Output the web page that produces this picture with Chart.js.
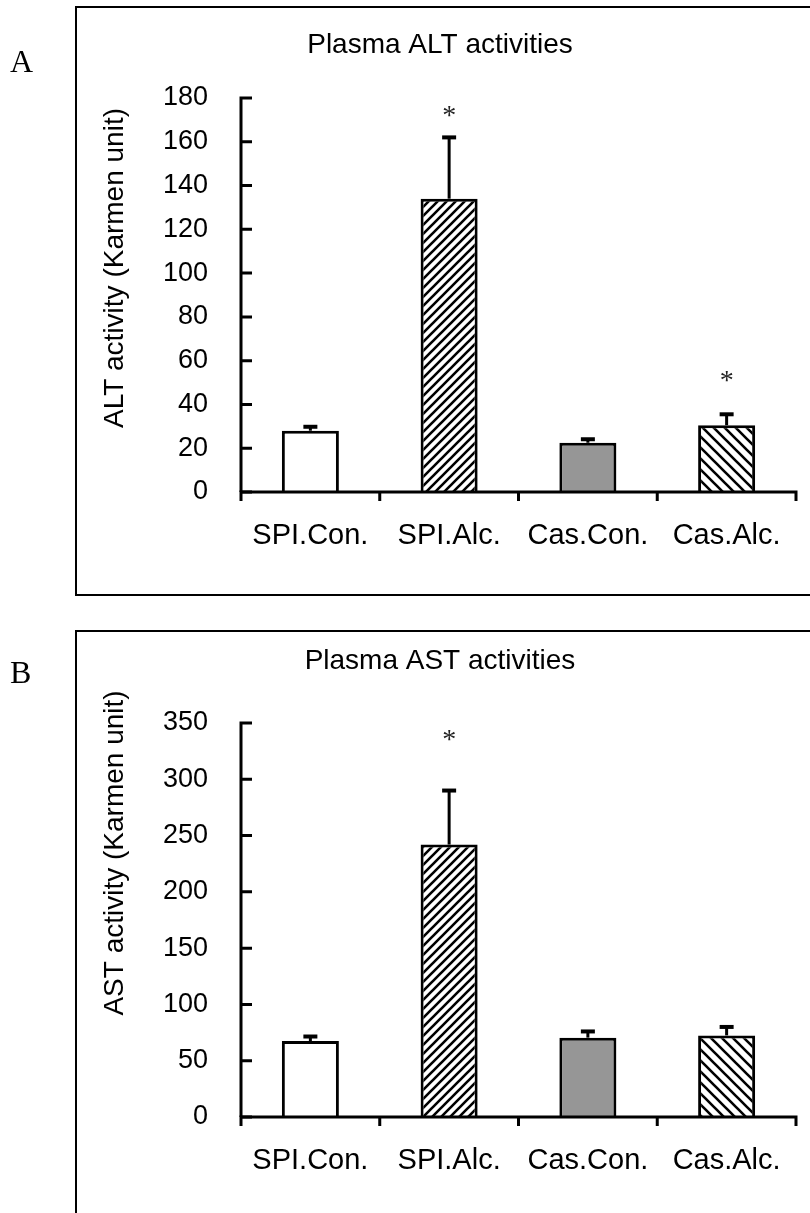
<!DOCTYPE html>
<html>
<head>
<meta charset="utf-8">
<script src="https://cdn.jsdelivr.net/npm/chart.js@4.4.1/dist/chart.umd.min.js"></script>
<style>
  html, body { margin: 0; padding: 0; background: #fff; }
  #wrap { position: relative; width: 810px; height: 1213px; overflow: hidden; }
  canvas { position: absolute; left: 0; }
  #alt { top: 0; }
  #ast { top: 613px; }
</style>
</head>
<body>
<div id="wrap">
  <canvas id="alt" width="810" height="613"></canvas>
  <canvas id="ast" width="810" height="600"></canvas>
</div>
<script>
// Groups on the x axis
const categories = ['SPI.Con.', 'SPI.Alc.', 'Cas.Con.', 'Cas.Alc.'];

// Panel A: plasma ALT (Karmen units), mean and SE
const altMeans  = [28, 134, 22.5, 30.5];
const altErrors = [1.8, 28, 1.6, 5];
const altStarAt = [null, 174.5, null, 53.5];   // height of the significance mark
const altTickMax = 180, altTickStep = 20;

// Panel B: plasma AST (Karmen units), mean and SE
const astMeans  = [67.5, 242, 70.5, 72.5];
const astErrors = [4, 48, 5.5, 7.5];
const astStarAt = [null, 340, null, null];
const astTickMax = 350, astTickStep = 50;

const SANS = '"Liberation Sans", Arial, Helvetica, sans-serif';
const SERIF = '"Liberation Serif", "Times New Roman", serif';

// diagonal hatch fill; dir '/' or '\\'
function hatch(size, dir, lw) {
  const c = document.createElement('canvas');
  c.width = size; c.height = size;
  const g = c.getContext('2d');
  g.fillStyle = '#fff';
  g.fillRect(0, 0, size, size);
  g.strokeStyle = '#000';
  g.lineWidth = lw;
  g.beginPath();
  if (dir === '/') {
    g.moveTo(-2, 2); g.lineTo(2, -2);
    g.moveTo(0, size); g.lineTo(size, 0);
    g.moveTo(size - 2, size + 2); g.lineTo(size + 2, size - 2);
  } else {
    g.moveTo(-2, size - 2); g.lineTo(2, size + 2);
    g.moveTo(0, 0); g.lineTo(size, size);
    g.moveTo(size - 2, -2); g.lineTo(size + 2, 2);
  }
  g.stroke();
  return g.createPattern(c, 'repeat');
}

const fills = () => ['#ffffff', hatch(9, '/', 2.6), '#969696', hatch(11, '\\', 2.6)];

// frame, panel letter, titles, axes, error bars and significance marks
const decor = {
  id: 'decor',
  beforeDraw(chart, args, o) {
    const ctx = chart.ctx;
    ctx.save();
    ctx.strokeStyle = '#000';
    ctx.lineWidth = 2;
    ctx.strokeRect(o.frame[0], o.frame[1], o.frame[2], o.frame[3]);

    ctx.fillStyle = '#000';
    ctx.font = '32px ' + SERIF;
    ctx.textAlign = 'left';
    ctx.textBaseline = 'alphabetic';
    ctx.fillText(o.letter, o.letterPos[0], o.letterPos[1]);

    ctx.font = '28px ' + SANS;
    ctx.textAlign = 'center';
    ctx.textBaseline = 'middle';
    ctx.fillText(o.title, o.titlePos[0], o.titlePos[1]);

    ctx.translate(o.yTitlePos[0], o.yTitlePos[1]);
    ctx.rotate(-Math.PI / 2);
    ctx.fillText(o.yTitle, 0, 0);
    ctx.restore();
  },
  afterDatasetsDraw(chart, args, o) {
    const ctx = chart.ctx;
    const xs = chart.scales.x, ys = chart.scales.y;
    const area = chart.chartArea;
    ctx.save();
    ctx.strokeStyle = '#000';
    ctx.lineCap = 'butt';

    // y axis with inward ticks
    ctx.lineWidth = 3;
    ctx.beginPath();
    ctx.moveTo(area.left, ys.getPixelForValue(ys.max) - 1.5);
    ctx.lineTo(area.left, area.bottom);
    ys.ticks.forEach(t => {
      const py = ys.getPixelForValue(t.value);
      ctx.moveTo(area.left, py);
      ctx.lineTo(area.left + 11, py);
    });
    ctx.stroke();

    // x axis with ticks between groups
    ctx.beginPath();
    ctx.moveTo(area.left - 1.5, area.bottom);
    ctx.lineTo(area.right + 1.5, area.bottom);
    const half = (xs.getPixelForValue(1) - xs.getPixelForValue(0)) / 2;
    for (let i = 0; i <= categories.length; i++) {
      const px = xs.getPixelForValue(i) - half;
      ctx.moveTo(px, area.bottom);
      ctx.lineTo(px, area.bottom + 9);
    }
    ctx.stroke();

    // error bars (upper half only)
    const meta = chart.getDatasetMeta(0);
    o.errors.forEach((e, i) => {
      const bar = meta.data[i];
      const v = chart.data.datasets[0].data[i];
      const yTop = ys.getPixelForValue(v + e);
      ctx.lineWidth = 3;
      ctx.beginPath();
      ctx.moveTo(bar.x, bar.y);
      ctx.lineTo(bar.x, yTop);
      ctx.stroke();
      ctx.lineWidth = 4;
      ctx.beginPath();
      ctx.moveTo(bar.x - 7, yTop);
      ctx.lineTo(bar.x + 7, yTop);
      ctx.stroke();
    });

    // significance marks
    ctx.fillStyle = '#222';
    ctx.font = '28px ' + SERIF;
    ctx.textAlign = 'center';
    ctx.textBaseline = 'alphabetic';
    o.stars.forEach((s, i) => {
      if (s === null) return;
      ctx.fillText('*', meta.data[i].x, ys.getPixelForValue(s) + 14);
    });
    ctx.restore();
  }
};

function makeChart(id, means, errors, stars, tickMax, tickStep, top, bottom, canvasH, deco) {
  return new Chart(document.getElementById(id), {
    type: 'bar',
    data: {
      labels: categories,
      datasets: [{
        data: means,
        backgroundColor: fills(),
        borderColor: '#000',
        borderWidth: 3,
        borderSkipped: 'start',
        categoryPercentage: 1,
        barPercentage: 0.411
      }]
    },
    options: {
      responsive: false,
      animation: false,
      devicePixelRatio: 1,
      layout: { padding: { left: 0, right: 14, top: top, bottom: 0 } },
      plugins: {
        legend: { display: false },
        tooltip: { enabled: false },
        decor: Object.assign({ errors: errors, stars: stars }, deco)
      },
      scales: {
        x: {
          offset: true,
          grid: { display: false, drawTicks: false },
          border: { display: false },
          ticks: { color: '#000', font: { family: SANS, size: 29 }, padding: 27, maxRotation: 0, autoSkip: false },
          afterFit(s) { s.height = canvasH - bottom; }
        },
        y: {
          min: 0,
          max: tickMax,
          grid: { display: false, drawTicks: false },
          border: { display: false },
          ticks: { stepSize: tickStep, color: '#000', font: { family: SANS, size: 27 }, padding: 33 },
          afterFit(s) { s.width = 241; }
        }
      }
    },
    plugins: [decor]
  });
}

makeChart('alt', altMeans, altErrors, altStarAt, altTickMax, altTickStep, 98, 492, 613, {
  frame: [76, 7, 800, 588],
  letter: 'A', letterPos: [10, 72],
  title: 'Plasma ALT activities', titlePos: [440, 45],
  yTitle: 'ALT activity (Karmen unit)', yTitlePos: [115, 268]
});

makeChart('ast', astMeans, astErrors, astStarAt, astTickMax, astTickStep, 110, 504, 600, {
  frame: [76, 18, 800, 700],
  letter: 'B', letterPos: [10, 70],
  title: 'Plasma AST activities', titlePos: [440, 48],
  yTitle: 'AST activity (Karmen unit)', yTitlePos: [115, 240]
});
</script>
</body>
</html>
